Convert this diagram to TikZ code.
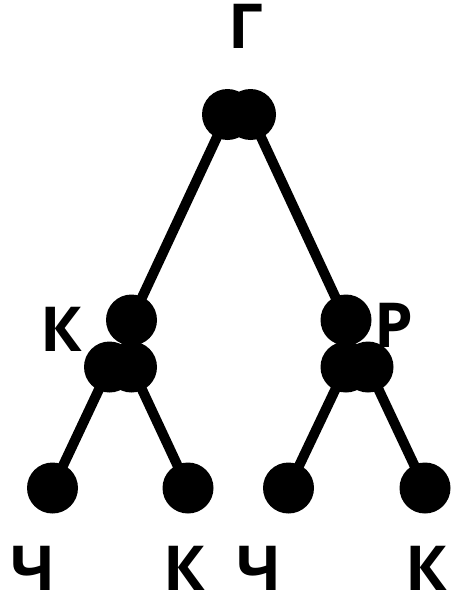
\documentclass[tikz,border=0pt]{standalone}
\usepackage{fontspec}
\setmainfont{Open Sans}
\usetikzlibrary{backgrounds}
\tikzset{
  dot/.style={circle,fill=black,inner sep=0pt,minimum size=51pt},
  lbl/.style={font=\fontsize{62}{62}\selectfont\bfseries,inner sep=0pt},
  edge/.style={line width=10pt}
}
\begin{document}
\begin{tikzpicture}[x=1pt,y=-1pt]
\useasboundingbox (0,0) rectangle (451,605);
% labels
\node[lbl] (lg) at (245.5,26) {Г};
\node[lbl] (lk) at (61.5,329) {К};
\node[lbl] (lr) at (394,325) {Р};
\node[lbl] (lc1) at (33.5,568) {Ч};
\node[lbl] (lk1) at (184,568) {К};
\node[lbl] (lc2) at (259.5,568) {Ч};
\node[lbl] (lk2) at (426.5,568) {К};
% root
\node[dot] (g1) at (227.5,114.5) {};
\node[dot] (g2) at (250.5,114.5) {};
% left
\node[dot] (k0) at (131.5,320) {};
\node[dot] (k1) at (109.5,367) {};
\node[dot] (k2) at (131.5,367) {};
% right
\node[dot] (r0) at (346,320) {};
\node[dot] (r1) at (346,367) {};
\node[dot] (r2) at (368,367) {};
% leaves
\node[dot] (a1) at (52.5,488) {};
\node[dot] (a2) at (188,488) {};
\node[dot] (a3) at (288.5,488) {};
\node[dot] (a4) at (425,488) {};
% edges
\begin{pgfonlayer}{background}
\draw[edge] (g1.center) -- (k0.center);
\draw[edge] (g2.center) -- (r0.center);
\draw[edge] (k1.center) -- (a1.center);
\draw[edge] (k2.center) -- (a2.center);
\draw[edge] (r1.center) -- (a3.center);
\draw[edge] (r2.center) -- (a4.center);
\end{pgfonlayer}
\end{tikzpicture}
\end{document}
